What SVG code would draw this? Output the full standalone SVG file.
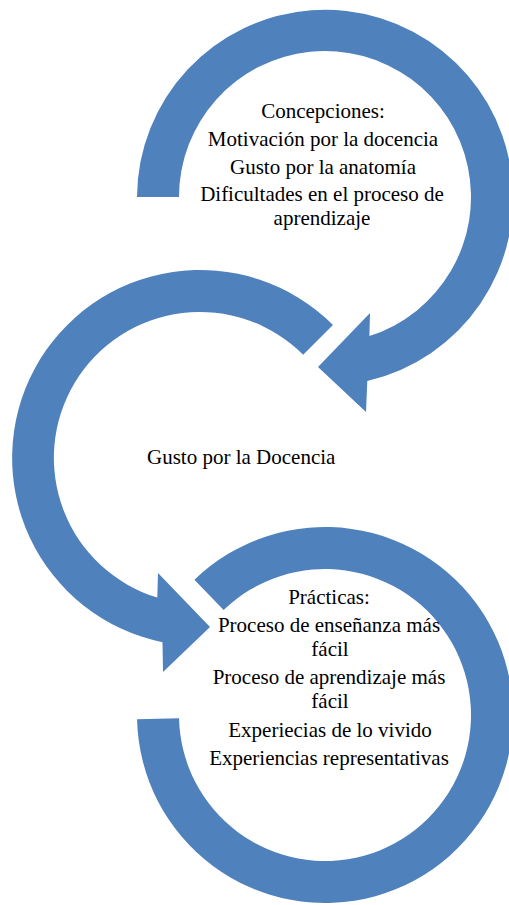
<svg xmlns="http://www.w3.org/2000/svg" width="509" height="905" viewBox="0 0 509 905">
  <style>
    .ring { fill: #4F81BD; stroke: none; }
    .lbl { font-family: "Liberation Serif", "Times New Roman", serif; font-size: 21px; fill: #000; text-anchor: middle; }
    .lbl-start { font-family: "Liberation Serif", "Times New Roman", serif; font-size: 21px; fill: #000; text-anchor: start; }
  </style>
  <rect x="0" y="0" width="509" height="905" fill="#FFFFFF"/>
  <g id="connectors">
    <path id="arrow-top" class="ring" d="M 137,197 A 188 188 0 1 1 367.3,381 L 366,412 L 318,367 L 370,313 L 369.4,336.1 A 146 146 0 1 0 179,197 Z"/>
    <path id="arrow-middle" class="ring" d="M 333,325 A 188 188 0 1 0 162.5,642.2 L 163,672 L 210,627 L 158,573 L 157.3,597.6 A 146 146 0 1 1 303.2,354.8 Z"/>
    <path id="arrow-bottom" class="ring" d="M 194.4,579.8 A 188 188 0 1 1 137.05,719.3 L 179.04,718.3 A 146 146 0 1 0 223.6,610 Z"/>
  </g>
  <g id="node-concepciones">
    <text class="lbl" x="323" y="118">Concepciones:</text>
    <text class="lbl" x="323" y="146">Motivación por la docencia</text>
    <text class="lbl" x="323" y="174">Gusto por la anatomía</text>
    <text class="lbl" x="322" y="201">Dificultades en el proceso de<tspan x="322" dy="24">aprendizaje</tspan></text>
  </g>
  <g id="node-gusto">
    <text class="lbl-start" x="147" y="464">Gusto por la Docencia</text>
  </g>
  <g id="node-practicas">
    <text class="lbl" x="329" y="604">Prácticas:</text>
    <text class="lbl" x="329" y="632">Proceso de enseñanza más<tspan x="330" dy="24">fácil</tspan></text>
    <text class="lbl" x="329" y="684">Proceso de aprendizaje más<tspan x="330" dy="24">fácil</tspan></text>
    <text class="lbl" x="330" y="737">Experiecias de lo vivido</text>
    <text class="lbl" x="329" y="765">Experiencias representativas</text>
  </g>
</svg>
